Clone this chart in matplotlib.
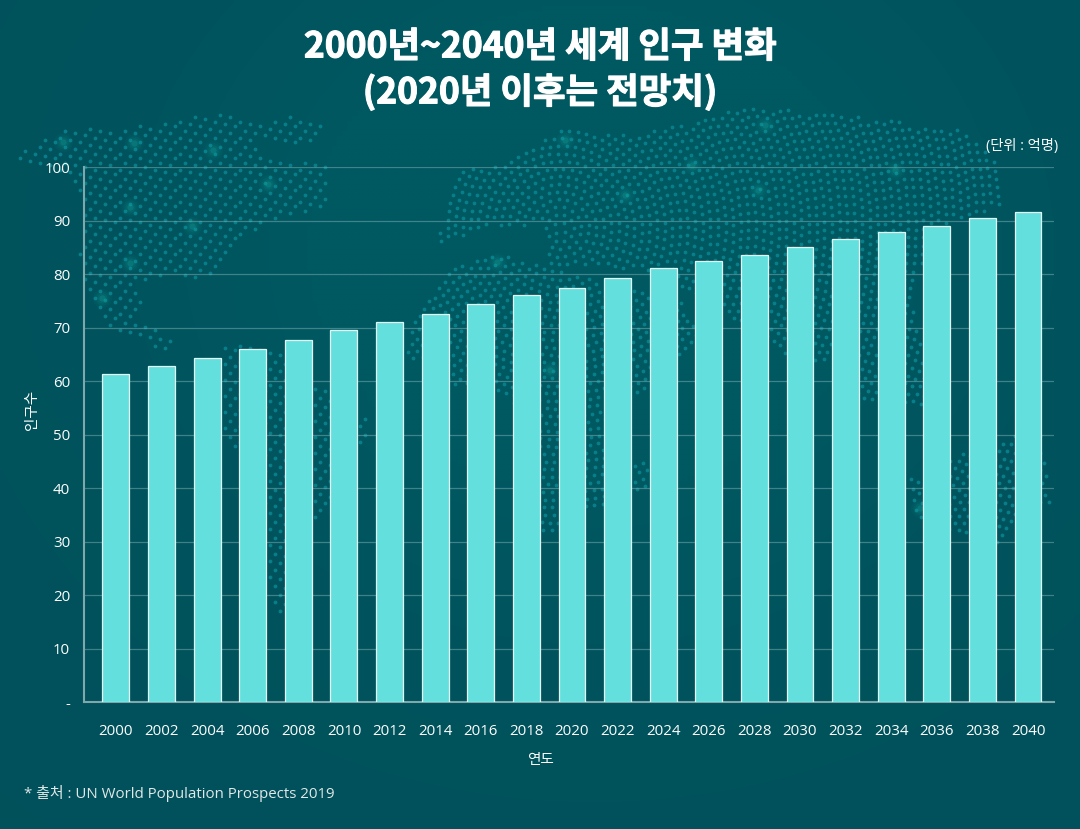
import numpy as np
import matplotlib
matplotlib.use("Agg")
import matplotlib.pyplot as plt
import matplotlib.patheffects as pe
from matplotlib.path import Path

plt.rcParams['font.family'] = ['Open Sans', 'Noto Sans CJK KR', 'DejaVu Sans']

W, H = 1080, 829

years = [str(y) for y in range(2000, 2041, 2)]
population = [61.4, 62.8, 64.4, 66.1, 67.8, 69.5, 71.1, 72.5, 74.4, 76.1, 77.5,
              79.4, 81.1, 82.5, 83.7, 85.2, 86.6, 88.0, 89.1, 90.5, 91.6]
y_ticks = [0, 10, 20, 30, 40, 50, 60, 70, 80, 90, 100]
y_labels = ['-', '10', '20', '30', '40', '50', '60', '70', '80', '90', '100']

# rough outlines of the dotted map behind the chart, in picture pixels
north_america = [(18, 152), (60, 130), (150, 125), (220, 112), (262, 128), (240, 142),
                 (285, 160), (325, 165), (325, 205), (285, 218), (245, 235), (212, 280),
                 (170, 276), (135, 285), (145, 295), (135, 318), (178, 340), (178, 350),
                 (165, 350), (125, 335), (100, 320), (78, 262), (84, 195), (60, 170), (18, 160)]
greenland = [(240, 130), (295, 113), (325, 125), (322, 140), (300, 147), (285, 140), (240, 142)]
south_america = [(225, 345), (268, 345), (330, 395), (372, 420), (368, 435), (332, 510),
                 (300, 540), (285, 612), (272, 610), (262, 480), (225, 440)]
eurasia = [(463, 165), (500, 165), (560, 130), (620, 135), (680, 125), (750, 105), (850, 115),
           (965, 130), (1002, 165), (1000, 207), (945, 225), (910, 290), (925, 360), (925, 405),
           (860, 405), (850, 360), (785, 362), (760, 335), (700, 300), (640, 270), (545, 265),
           (545, 225), (490, 225), (440, 245), (440, 225)]
africa = [(445, 272), (500, 252), (560, 270), (680, 300), (700, 340), (650, 392), (605, 400),
          (605, 505), (585, 510), (565, 535), (540, 535), (535, 450), (512, 402), (440, 380),
          (405, 352), (410, 322)]
madagascar = [(632, 460), (650, 460), (650, 490), (632, 490)]
australia = [(905, 480), (925, 478), (950, 458), (1040, 425), (1050, 505), (990, 548), (915, 522)]
west_land = [north_america, greenland, south_america]
east_land = [eurasia, africa, madagascar, australia]
glow_x = [63, 134, 213, 130, 192, 130, 102, 268, 565, 692, 765, 895, 625, 758, 497, 550, 920]
glow_y = [142, 143, 150, 207, 226, 263, 298, 184, 140, 165, 125, 170, 195, 190, 262, 370, 508]

fig = plt.figure(figsize=(W / 100, 8.291), dpi=100)

# background layer in pixel coordinates
bg = fig.add_axes([0, 0, 1, 1])
bg.set_xlim(0, W)
bg.set_ylim(H, 0)
bg.axis('off')
gx, gy = np.meshgrid(np.linspace(0, 1, 216), np.linspace(0, 1, 166))
shade = np.exp(-((gx - 0.55) ** 2 / 0.12 + (gy - 0.3) ** 2 / 0.15))
base = np.array([0, 76, 86]) / 255
light = np.array([0, 88, 97]) / 255
img = base + (light - base) * np.clip(shade + 0.45, 0, 1)[..., None]
bg.imshow(img, extent=(0, W, H, 0), aspect='auto', interpolation='bilinear')


def inside(pts, polys):
    mask = np.zeros(len(pts), bool)
    for poly in polys:
        mask |= Path(poly).contains_points(pts)
    return pts[mask]


# west side: slanted staggered rows
step = 10.0
px, py = np.meshgrid(np.arange(-200, W, step), np.arange(90, 640, step * 0.8))
px = px + (np.arange(px.shape[0])[:, None] % 2) * step / 2
py = py + 0.22 * (px % (step * 6))
west = inside(np.column_stack([px.ravel(), py.ravel()]), west_land)

# east side: dots on arcs around one centre
rings = []
for r in np.arange(6, 640, 7.6):
    n = int(2 * np.pi * r / 8.4)
    t = np.linspace(0, 2 * np.pi, n, endpoint=False) + r * 0.37
    rings.append(np.column_stack([560 + r * np.cos(t), 228 + r * np.sin(t)]))
east = inside(np.vstack(rings), east_land)

dots = np.vstack([west, east])
bg.scatter(dots[:, 0], dots[:, 1], s=7.5, color='#0a8a96', alpha=0.8, linewidths=0)
for size, alpha in [(190, 0.05), (110, 0.08), (55, 0.12), (20, 0.25)]:
    bg.scatter(glow_x, glow_y, s=size, color='#15a8a2', alpha=alpha, linewidths=0)

# chart
left, right, top, bottom = 84, 1054, 167.5, 702
ax = fig.add_axes([left / W, 1 - bottom / H, (right - left) / W, (bottom - top) / H])
ax.patch.set_alpha(0)
x = np.arange(len(years))
ax.bar(x, population, width=0.59, color='#63e0dd', edgecolor='#e4f8f7', linewidth=0.9, zorder=3)
ax.set_xlim(-0.70, 20.57)
ax.set_ylim(0, 100)
ax.set_xticks(x, years)
ax.set_yticks(y_ticks, y_labels)
ax.tick_params(axis='both', length=0, labelcolor='white', labelsize=10.8)
ax.tick_params(axis='x', pad=16)
ax.tick_params(axis='y', pad=10)
ax.grid(axis='y', color='#7fb0b3', alpha=0.5, linewidth=0.9, zorder=1)
ax.set_axisbelow(True)
for s in ['top', 'right']:
    ax.spines[s].set_visible(False)
for s in ['left', 'bottom']:
    ax.spines[s].set_color('#7fa8ac')
    ax.spines[s].set_linewidth(1.5)

heavy = [pe.withStroke(linewidth=0.8, foreground='white')]
fig.text(540 / W, 1 - 47 / H, '2000년~2040년 세계 인구 변화', color='white', fontsize=25.5,
         family=['Noto Sans CJK KR', 'DejaVu Sans'], fontweight='bold', ha='center', va='center',
         path_effects=heavy)
fig.text(540 / W, 1 - 92 / H, '(2020년 이후는 전망치)', color='white', fontsize=25.5,
         family=['Noto Sans CJK KR', 'DejaVu Sans'], fontweight='bold', ha='center', va='center',
         path_effects=heavy)
fig.text(1058 / W, 1 - 146.5 / H, '(단위 : 억명)', color='white', fontsize=10.3, ha='right', va='center')
fig.text(33 / W, 1 - 410 / H, '인구수', color='white', fontsize=10.5, rotation=90, ha='center', va='center')
fig.text(540 / W, 1 - 760 / H, '연도', color='white', fontsize=10.5, ha='center', va='center')
fig.text(24 / W, 1 - 793.5 / H, '* 출처 : UN World Population Prospects 2019', color='#e2e8e8',
         fontsize=10.8, ha='left', va='center')

fig.savefig('out.png', dpi=100)
